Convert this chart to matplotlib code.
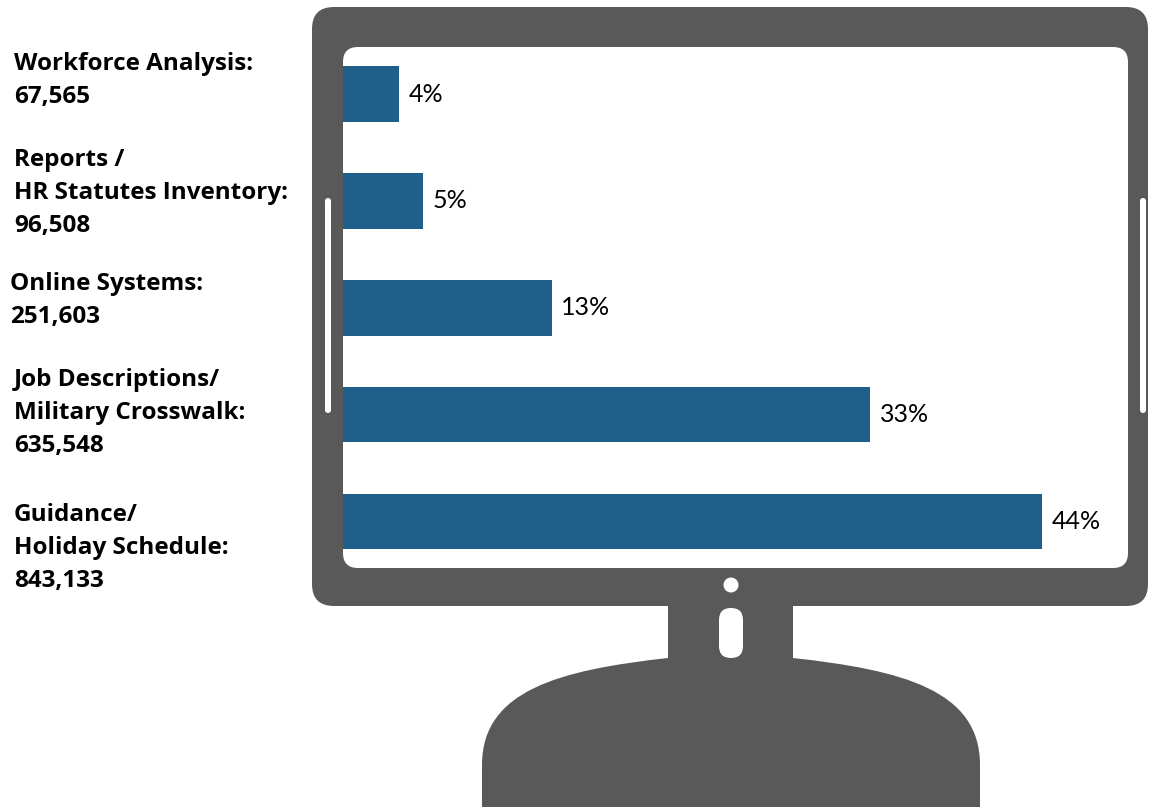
import numpy as np
import matplotlib
matplotlib.use('Agg')
import matplotlib.pyplot as plt
from matplotlib.patches import FancyBboxPatch, Circle, PathPatch
from matplotlib.path import Path

# data
categories = ['Workforce Analysis:', 'Reports /\nHR Statutes Inventory:', 'Online Systems:',
              'Job Descriptions/\nMilitary Crosswalk:', 'Guidance/\nHoliday Schedule:']
counts = [67565, 96508, 251603, 635548, 843133]
pct_labels = ['4%', '5%', '13%', '33%', '44%']

# layout (pixels of a 1149x807 canvas)
W, H = 1149, 807
label_x = [14, 14, 10, 14, 14]
label_y = [80, 193, 301, 413, 548]
frame_col = '#595959'
bar_col = '#1F5F8A'

plt.rcParams['font.family'] = ['Lato', 'DejaVu Sans']

fig = plt.figure(figsize=(W / 100, H / 100), dpi=100)

# background axes in pixel units, for the monitor drawing
bg = fig.add_axes([0, 0, 1, 1])
bg.set_xlim(0, W)
bg.set_ylim(H, 0)
bg.axis('off')

def rbox(x0, y0, x1, y1, r, col):
    p = FancyBboxPatch((x0, y0), x1 - x0, y1 - y0,
                       boxstyle='round,pad=0,rounding_size=%g' % r,
                       fc=col, ec='none')
    bg.add_patch(p)

# base of the stand
verts = [(668, 658), (793, 658),
         (902, 670), (980, 690), (980, 765),
         (980, 820), (482, 820), (482, 765),
         (482, 690), (560, 670), (668, 658)]
codes = [Path.MOVETO, Path.LINETO,
         Path.CURVE4, Path.CURVE4, Path.CURVE4,
         Path.LINETO, Path.LINETO, Path.LINETO,
         Path.CURVE4, Path.CURVE4, Path.CURVE4]
bg.add_patch(PathPatch(Path(verts, codes), fc=frame_col, ec='none'))
# neck
bg.add_patch(plt.Rectangle((668, 595), 125, 70, fc=frame_col, ec='none'))
# frame and screen
rbox(312, 7, 1148, 606, 22, frame_col)
rbox(343, 47, 1128, 568, 15, 'white')
# side slits
rbox(325, 198, 331, 413, 3, 'white')
rbox(1140, 198, 1146, 413, 3, 'white')
# button and slot under the screen
bg.add_patch(Circle((731, 585), 7.5, fc='white', ec='none'))
rbox(719, 608, 743, 658, 12, 'white')

# category labels
for i in range(len(categories)):
    txt = categories[i] + '\n' + format(counts[i], ',')
    bg.text(label_x[i], label_y[i], txt, fontsize=17.5, fontweight='bold',
            family=['Open Sans', 'DejaVu Sans'],
            ha='left', va='center', linespacing=1.5, color='black')

# bar chart on the screen
x0, x1 = 343, 1128
y_top, y_bot = 94, 521.5
unit = (y_bot - y_top) / 4
ax = fig.add_axes([x0 / W, 1 - (y_bot + unit / 2) / H,
                   (x1 - x0) / W, (y_bot - y_top + unit) / H])
ax.patch.set_alpha(0)
pos = np.arange(len(counts))
ax.barh(pos, counts, height=0.52, color=bar_col)
ax.set_xlim(0, counts[-1] * (x1 - x0) / 699)
ax.set_ylim(4.5, -0.5)
ax.axis('off')

for i in range(len(counts)):
    ax.annotate(pct_labels[i], (counts[i], pos[i]), xytext=(7, 0),
                textcoords='offset points', ha='left', va='center',
                fontsize=18, color='black')

fig.savefig('out.png', dpi=100)
